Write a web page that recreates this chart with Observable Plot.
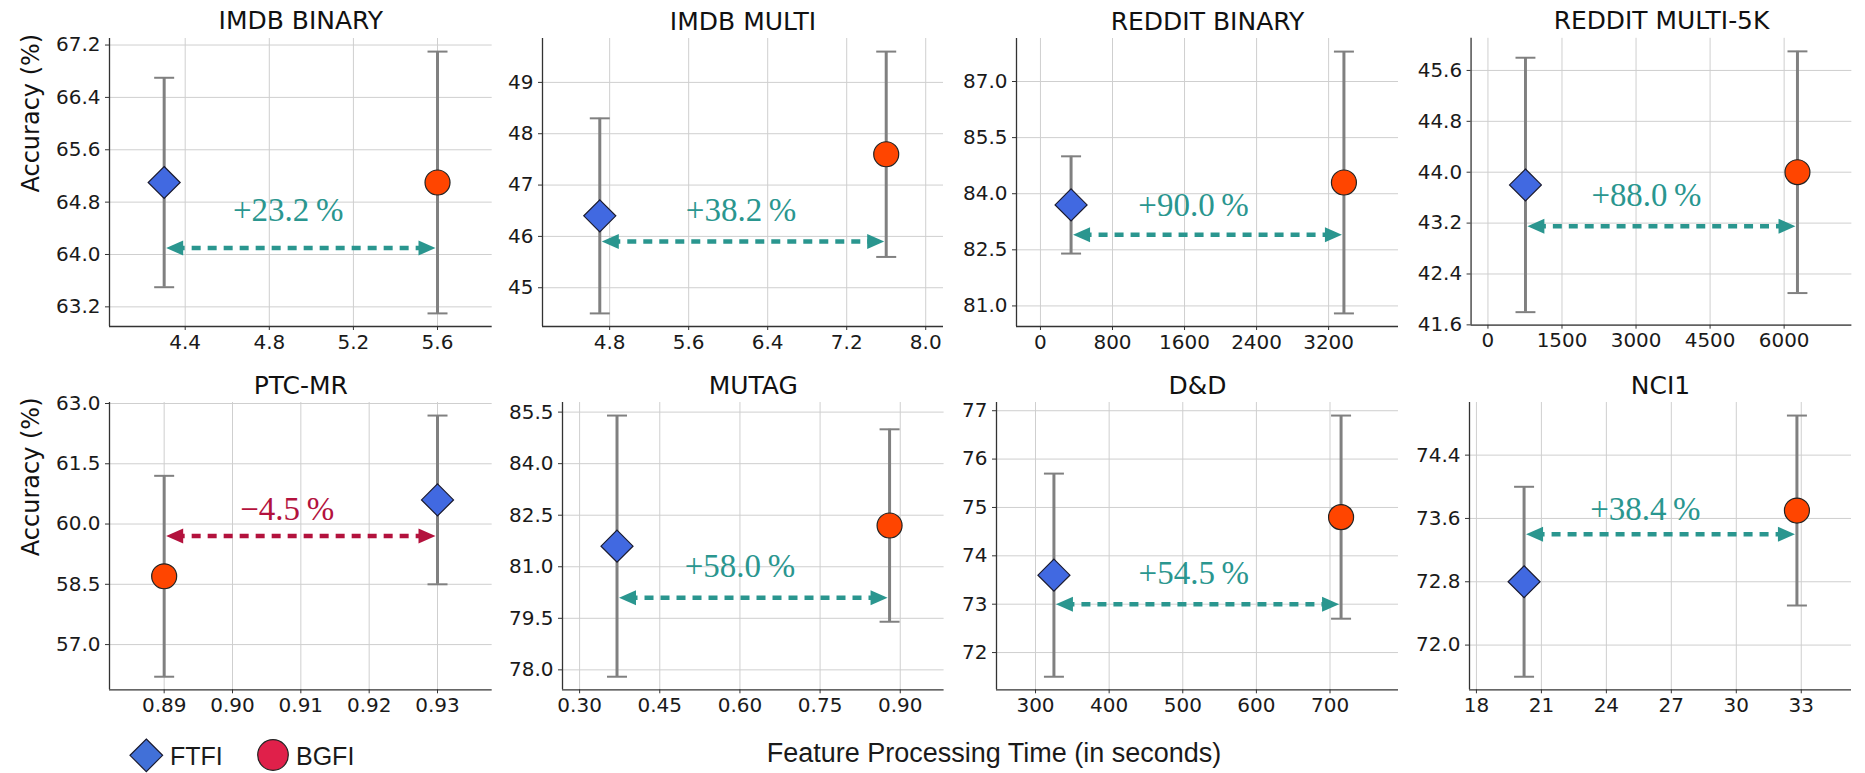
<!DOCTYPE html>
<html>
<head>
<meta charset="utf-8">
<script src="https://cdn.jsdelivr.net/npm/d3@7"></script>
<script src="https://cdn.jsdelivr.net/npm/@observablehq/plot@0.6"></script>
<style>
  body { margin: 0; background: #fff; }
  #root { position: relative; width: 1865px; height: 773px; overflow: hidden; font-family: "DejaVu Sans", sans-serif; background: #fff; }
  .panel { position: absolute; }
  .lab { position: absolute; font-family: "Liberation Sans", Arial, sans-serif; font-size: 25px; line-height: 26px; color: #1a1a1a; white-space: nowrap; }
</style>
</head>
<body>
<div id="root"></div>
<script>
// ---------------- data ----------------
const datasets = ["IMDB BINARY", "IMDB MULTI", "REDDIT BINARY", "REDDIT MULTI-5K", "PTC-MR", "MUTAG", "D&D", "NCI1"];
const ftfiTime = [4.3, 4.7, 340, 760, 0.93, 0.37, 325, 20.2];
const ftfiAcc  = [65.1, 46.4, 83.7, 43.8, 60.6, 81.6, 73.6, 72.8];
const ftfiErr  = [1.6, 1.9, 1.3, 2.0, 2.1, 3.8, 2.1, 1.2];
const bgfiTime = [5.6, 7.6, 3370, 6270, 0.89, 0.88, 715, 32.8];
const bgfiAcc  = [65.1, 47.6, 84.3, 44.0, 58.7, 82.2, 74.8, 73.7];
const bgfiErr  = [2.0, 2.0, 3.5, 1.9, 2.5, 2.8, 2.1, 1.2];
const gainLabels = ["+23.2\u2009%", "+38.2\u2009%", "+90.0\u2009%", "+88.0\u2009%", "\u22124.5\u2009%", "+58.0\u2009%", "+54.5\u2009%", "+38.4\u2009%"];
const arrowAcc  = [64.1, 45.9, 82.9, 43.15, 59.7, 80.1, 73.0, 73.4];
const labelTime = [4.89, 6.13, 1700, 3210, 0.908, 0.60, 515, 25.8];
const labelAcc  = [64.67, 46.5, 83.69, 43.63, 60.37, 81.0, 73.63, 73.72];
const xTicks = [
  [4.4, 4.8, 5.2, 5.6],
  [4.8, 5.6, 6.4, 7.2, 8.0],
  [0, 800, 1600, 2400, 3200],
  [0, 1500, 3000, 4500, 6000],
  [0.89, 0.90, 0.91, 0.92, 0.93],
  [0.30, 0.45, 0.60, 0.75, 0.90],
  [300, 400, 500, 600, 700],
  [18, 21, 24, 27, 30, 33]
];
const yTicks = [
  [63.2, 64.0, 64.8, 65.6, 66.4, 67.2],
  [45, 46, 47, 48, 49],
  [81.0, 82.5, 84.0, 85.5, 87.0],
  [41.6, 42.4, 43.2, 44.0, 44.8, 45.6],
  [57.0, 58.5, 60.0, 61.5, 63.0],
  [78.0, 79.5, 81.0, 82.5, 84.0, 85.5],
  [72, 73, 74, 75, 76, 77],
  [72.0, 72.8, 73.6, 74.4]
];
const xFormats = [".1f", ".1f", "d", "d", ".2f", ".2f", "d", "d"];
const yFormats = [".1f", "d", ".1f", ".1f", ".1f", ".1f", "d", ".1f"];

// ---------------- layout (page pixels: plot frame left, top, right, bottom) ----------------
const frames = [
  [109.3, 38, 492, 326], [542, 38, 943, 326], [1016, 38, 1398, 326], [1470.7, 38, 1853, 326],
  [109.3, 402, 492, 689.3], [561.7, 402, 943.3, 689.3], [996, 402, 1398, 689.3], [1468.7, 402, 1850.7, 689.3]
];
const ML = 112, MR = 14, MT = 44, MB = 44;
const TEAL = "#2a968f", RED = "#b3123d", GREY = "#808080";

// custom symbols
const diamondSym = { draw(c) { const s = 16; c.moveTo(0, -s); c.lineTo(s, 0); c.lineTo(0, s); c.lineTo(-s, 0); c.closePath(); } };
const capSym = { draw(c) { c.moveTo(-10, 0); c.lineTo(10, 0); } };
const headRight = { draw(c) { const o = -2; c.moveTo(o, 0); c.lineTo(o - 17, -7.5); c.lineTo(o - 17, 7.5); c.closePath(); } };
const headLeft = { draw(c) { const o = 2; c.moveTo(o, 0); c.lineTo(o + 17, -7.5); c.lineTo(o + 17, 7.5); c.closePath(); } };

const root = document.getElementById("root");

datasets.forEach((name, i) => {
  const [l, t, r, b] = frames[i];
  const pts = [
    { s: "FTFI", t: ftfiTime[i], a: ftfiAcc[i], e: ftfiErr[i] },
    { s: "BGFI", t: bgfiTime[i], a: bgfiAcc[i], e: bgfiErr[i] }
  ];
  const ylo = d3.min(pts, d => d.a - d.e), yhi = d3.max(pts, d => d.a + d.e);
  const ypad = (yhi - ylo) * 0.05;
  const xlo = d3.min(pts, d => d.t), xhi = d3.max(pts, d => d.t);
  const xpad = (xhi - xlo) * 0.2;
  const xd = [xlo - xpad, xhi + xpad], yd = [ylo - ypad, yhi + ypad];
  const negative = gainLabels[i].startsWith("\u2212");
  const col = negative ? RED : TEAL;
  const arrow = [{ y: arrowAcc[i], x1: xlo, x2: xhi }];
  const row = i < 4 ? 0 : 1;

  const marks = [
    Plot.gridX(xTicks[i], { stroke: "#cfcfcf", strokeOpacity: 1, strokeWidth: 1 }),
    Plot.gridY(yTicks[i], { stroke: "#cfcfcf", strokeOpacity: 1, strokeWidth: 1 }),
    Plot.axisX(xTicks[i], { tickFormat: d3.format(xFormats[i]), tickSize: 4, tickPadding: 4, fontSize: 20, label: null, stroke: "#333" }),
    Plot.axisY(yTicks[i], { tickFormat: d3.format(yFormats[i]), tickSize: 4, tickPadding: 5, fontSize: 20, label: null, stroke: "#333" }),
    Plot.ruleX([xd[0]], { stroke: "#333", strokeWidth: 1.3 }),
    Plot.ruleY([yd[0]], { stroke: "#333", strokeWidth: 1.3 }),
    // error bars
    Plot.ruleX(pts, { x: "t", y1: d => d.a - d.e, y2: d => d.a + d.e, stroke: GREY, strokeWidth: 3 }),
    Plot.dot(pts, { x: "t", y: d => d.a + d.e, symbol: capSym, r: 5, stroke: GREY, strokeWidth: 2, fill: "none" }),
    Plot.dot(pts, { x: "t", y: d => d.a - d.e, symbol: capSym, r: 5, stroke: GREY, strokeWidth: 2, fill: "none" }),
    // double arrow
    Plot.ruleY(arrow, { y: "y", x1: "x1", x2: "x2", insetLeft: 12, insetRight: 12, stroke: col, strokeWidth: 4.5, strokeDasharray: "9,7" }),
    Plot.dot(arrow, { x: "x2", y: "y", symbol: headRight, r: 5, fill: col, stroke: "none" }),
    Plot.dot(arrow, { x: "x1", y: "y", symbol: headLeft, r: 5, fill: col, stroke: "none" }),
    Plot.text([{ x: labelTime[i], y: labelAcc[i], s: gainLabels[i] }], { x: "x", y: "y", text: "s", fontFamily: "Liberation Serif", fontSize: 33, fill: col, lineAnchor: "middle" }),
    // markers
    Plot.dot(pts.filter(d => d.s === "BGFI"), { x: "t", y: "a", r: 12.5, fill: "#ff4500", stroke: "#222", strokeWidth: 1.2 }),
    Plot.dot(pts.filter(d => d.s === "FTFI"), { x: "t", y: "a", symbol: diamondSym, r: 5, fill: "#4169e1", stroke: "#1a1a2e", strokeWidth: 1.2 }),
    // title
    Plot.text([name], { frameAnchor: "top", dy: row === 0 ? -17 : -16.5, fontSize: 25, fill: "#111", lineAnchor: "middle" })
  ];
  if (i % 4 === 0) {
    marks.push(Plot.text(["Accuracy (%)"], { frameAnchor: "left", dx: -78, dy: 10, rotate: -90, fontSize: 24, fill: "#111", lineAnchor: "middle" }));
  }

  const chart = Plot.plot({
    width: (r - l) + ML + MR,
    height: (b - t) + MT + MB,
    marginLeft: ML, marginRight: MR, marginTop: MT, marginBottom: MB,
    x: { domain: xd },
    y: { domain: yd },
    style: { fontFamily: "DejaVu Sans", overflow: "visible", background: "transparent", color: "#1a1a1a" },
    marks
  });
  const wrap = document.createElement("div");
  wrap.className = "panel";
  wrap.style.left = (l - ML) + "px";
  wrap.style.top = (t - MT) + "px";
  wrap.appendChild(chart);
  root.appendChild(wrap);
});

// legend + shared x label
const legendHTML = `
  <svg class="panel" style="left:0;top:730px;overflow:visible" width="400" height="43">
    <path d="M146.3,9 L162.6,25.3 L146.3,41.6 L130,25.3 Z" fill="#4170d8" stroke="#1a1a2e" stroke-width="1.2"/>
    <circle cx="273" cy="25" r="15.3" fill="#e0204a" stroke="#222" stroke-width="1.2"/>
  </svg>
  <div class="lab" style="left:170px;top:743px">FTFI</div>
  <div class="lab" style="left:296px;top:743px">BGFI</div>
  <div class="lab" style="left:994px;top:740px;font-size:27px;transform:translateX(-50%)">Feature Processing Time (in seconds)</div>
`;
root.insertAdjacentHTML("beforeend", legendHTML);
</script>
</body>
</html>
